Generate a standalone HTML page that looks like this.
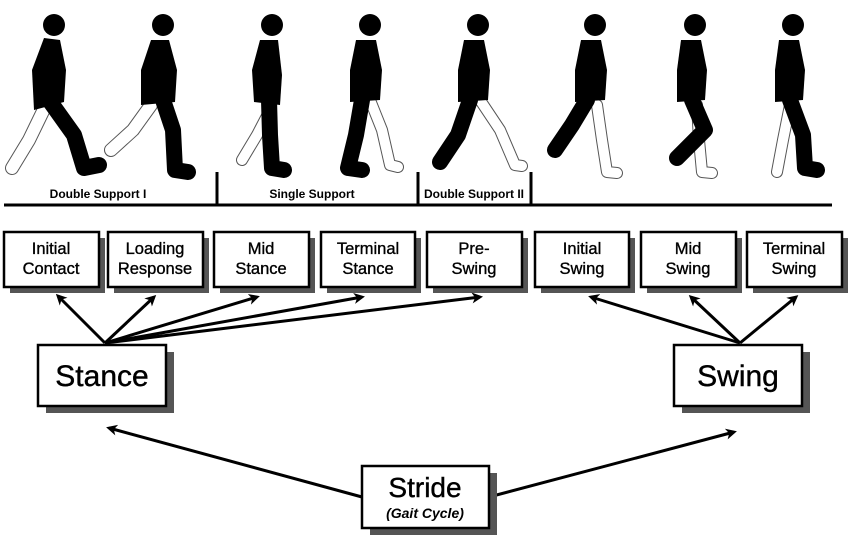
<!DOCTYPE html>
<html><head><meta charset="utf-8"><style>
body{margin:0;background:#fff;width:850px;height:542px;overflow:hidden;font-family:"Liberation Sans",Arial,sans-serif}
</style></head><body>
<svg width="850" height="542" viewBox="0 0 850 542" xmlns="http://www.w3.org/2000/svg" font-family="Liberation Sans, Arial, sans-serif">
<defs>
<marker id="ah" markerWidth="11" markerHeight="11" refX="8" refY="5.5" orient="auto" markerUnits="userSpaceOnUse"><path d="M0,0 L11,5.5 L0,11 L3,5.5 Z" fill="#000"/></marker>
</defs>
<g stroke-linecap="round" stroke-linejoin="round">
<g transform="translate(54,0)">
<polyline points="-8,105 -25,140 -42,168" stroke="#555" stroke-width="14" fill="none"/><polyline points="-8,105 -25,140 -42,168" stroke="#fff" stroke-width="12" fill="none"/>
<circle cx="0" cy="25" r="11"/><path d="M-10,38 L6,40 L12,70 L10,102 L-20,110 L-22,70 Z"/>
<polyline points="-5,100 20,135 30,168 45,165" stroke="#000" stroke-width="16" fill="none"/></g>
<g transform="translate(163,0)">
<polyline points="-12,105 -30,130 -52,150" stroke="#555" stroke-width="14" fill="none"/><polyline points="-12,105 -30,130 -52,150" stroke="#fff" stroke-width="12" fill="none"/>
<circle cx="0" cy="25" r="11"/><path d="M-12,40 L6,40 L14,70 L12,102 L-22,105 L-22,70 Z"/>
<polyline points="0,100 10,130 12,170 25,172" stroke="#000" stroke-width="16" fill="none"/></g>
<g transform="translate(272,0)">
<polyline points="-2,110 -15,135 -30,160" stroke="#555" stroke-width="12" fill="none"/><polyline points="-2,110 -15,135 -30,160" stroke="#fff" stroke-width="10" fill="none"/>
<circle cx="0" cy="25" r="11"/><path d="M-12,40 L6,40 L10,75 L8,105 L-18,102 L-20,70 Z"/>
<polyline points="-3,100 -2,135 0,168 12,170" stroke="#000" stroke-width="16" fill="none"/></g>
<g transform="translate(370,0)">
<polyline points="0,100 12,130 20,165 28,167" stroke="#555" stroke-width="12" fill="none"/><polyline points="0,100 12,130 20,165 28,167" stroke="#fff" stroke-width="10" fill="none"/>
<circle cx="0" cy="25" r="11"/><path d="M-14,40 L6,40 L12,70 L10,100 L-20,102 L-20,70 Z"/>
<polyline points="-8,100 -14,135 -22,168 -8,170" stroke="#000" stroke-width="16" fill="none"/></g>
<g transform="translate(480,0)">
<polyline points="0,100 20,130 35,165 42,166" stroke="#555" stroke-width="12" fill="none"/><polyline points="0,100 20,130 35,165 42,166" stroke="#fff" stroke-width="10" fill="none"/>
<circle cx="-2" cy="25" r="11"/><path d="M-16,40 L4,40 L10,70 L8,100 L-22,102 L-22,70 Z"/>
<polyline points="-10,100 -22,135 -40,162" stroke="#000" stroke-width="16" fill="none"/></g>
<g transform="translate(597,0)">
<polyline points="0,105 5,140 10,172 20,173" stroke="#555" stroke-width="12" fill="none"/><polyline points="0,105 5,140 10,172 20,173" stroke="#fff" stroke-width="10" fill="none"/>
<circle cx="-2" cy="25" r="11"/><path d="M-16,40 L4,40 L10,70 L8,100 L-22,102 L-22,70 Z"/>
<polyline points="-10,100 -25,125 -42,150" stroke="#000" stroke-width="16" fill="none"/></g>
<g transform="translate(697,0)">
<polyline points="0,105 2,140 5,172 15,173" stroke="#555" stroke-width="12" fill="none"/><polyline points="0,105 2,140 5,172 15,173" stroke="#fff" stroke-width="10" fill="none"/>
<circle cx="-2" cy="25" r="11"/><path d="M-16,40 L4,40 L10,70 L8,100 L-20,102 L-20,70 Z"/>
<polyline points="-5,100 8,130 -20,158" stroke="#000" stroke-width="16" fill="none"/></g>
<g transform="translate(795,0)">
<polyline points="-5,105 -12,140 -18,172" stroke="#555" stroke-width="12" fill="none"/><polyline points="-5,105 -12,140 -18,172" stroke="#fff" stroke-width="10" fill="none"/>
<circle cx="-2" cy="25" r="11"/><path d="M-16,40 L4,40 L10,70 L8,100 L-20,102 L-20,70 Z"/>
<polyline points="-5,100 8,135 10,168 22,170" stroke="#000" stroke-width="16" fill="none"/></g>
</g>
<line x1="4" y1="205" x2="832" y2="205" stroke="#000" stroke-width="3"/>
<line x1="217" y1="172" x2="217" y2="205" stroke="#000" stroke-width="3"/>
<line x1="418" y1="172" x2="418" y2="205" stroke="#000" stroke-width="3"/>
<line x1="531" y1="172" x2="531" y2="205" stroke="#000" stroke-width="3"/>
<g font-size="12" font-weight="bold" text-anchor="middle">
<text x="98" y="198">Double Support I</text>
<text x="312" y="198">Single Support</text>
<text x="474" y="198">Double Support II</text>
</g>
<g font-size="16.5" text-anchor="middle" stroke="#000" stroke-width="0.35">
<rect x="10" y="238" width="95" height="55" fill="#555" stroke="none"/><rect x="4" y="232" width="95" height="55" fill="#fff" stroke="#000" stroke-width="2.5"/>
<text x="51" y="254">Initial</text><text x="51" y="274">Contact</text>
<rect x="114" y="238" width="95" height="55" fill="#555" stroke="none"/><rect x="108" y="232" width="95" height="55" fill="#fff" stroke="#000" stroke-width="2.5"/>
<text x="155" y="254">Loading</text><text x="155" y="274">Response</text>
<rect x="220" y="238" width="95" height="55" fill="#555" stroke="none"/><rect x="214" y="232" width="95" height="55" fill="#fff" stroke="#000" stroke-width="2.5"/>
<text x="261" y="254">Mid</text><text x="261" y="274">Stance</text>
<rect x="327" y="238" width="94" height="55" fill="#555" stroke="none"/><rect x="321" y="232" width="94" height="55" fill="#fff" stroke="#000" stroke-width="2.5"/>
<text x="368" y="254">Terminal</text><text x="368" y="274">Stance</text>
<rect x="433" y="238" width="95" height="55" fill="#555" stroke="none"/><rect x="427" y="232" width="95" height="55" fill="#fff" stroke="#000" stroke-width="2.5"/>
<text x="474" y="254">Pre-</text><text x="474" y="274">Swing</text>
<rect x="541" y="238" width="94" height="55" fill="#555" stroke="none"/><rect x="535" y="232" width="94" height="55" fill="#fff" stroke="#000" stroke-width="2.5"/>
<text x="582" y="254">Initial</text><text x="582" y="274">Swing</text>
<rect x="647" y="238" width="95" height="55" fill="#555" stroke="none"/><rect x="641" y="232" width="95" height="55" fill="#fff" stroke="#000" stroke-width="2.5"/>
<text x="688" y="254">Mid</text><text x="688" y="274">Swing</text>
<rect x="753" y="238" width="95" height="55" fill="#555" stroke="none"/><rect x="747" y="232" width="95" height="55" fill="#fff" stroke="#000" stroke-width="2.5"/>
<text x="794" y="254">Terminal</text><text x="794" y="274">Swing</text>
</g>
<g stroke="#000" stroke-width="3" marker-end="url(#ah)">
<line x1="105" y1="343" x2="58" y2="296"/>
<line x1="105" y1="343" x2="154" y2="297"/>
<line x1="105" y1="343" x2="257" y2="297"/>
<line x1="105" y1="343" x2="362" y2="297"/>
<line x1="105" y1="343" x2="480" y2="297"/>
<line x1="740" y1="343" x2="591" y2="297"/>
<line x1="740" y1="343" x2="691" y2="297"/>
<line x1="740" y1="343" x2="796" y2="297"/>
<line x1="362" y1="497" x2="109" y2="428"/>
<line x1="489" y1="497" x2="734" y2="432"/>
</g>
<rect x="46" y="352" width="128" height="61" fill="#555"/><rect x="38" y="345" width="128" height="61" fill="#fff" stroke="#000" stroke-width="2.5"/>
<text x="102" y="386" font-size="30" text-anchor="middle" stroke="#000" stroke-width="0.4">Stance</text>
<rect x="682" y="352" width="128" height="61" fill="#555"/><rect x="674" y="345" width="128" height="61" fill="#fff" stroke="#000" stroke-width="2.5"/>
<text x="738" y="386" font-size="30" text-anchor="middle" stroke="#000" stroke-width="0.4">Swing</text>
<rect x="370" y="473" width="127" height="62" fill="#555"/><rect x="362" y="466" width="127" height="62" fill="#fff" stroke="#000" stroke-width="2.5"/>
<text x="425" y="497" font-size="28" text-anchor="middle" stroke="#000" stroke-width="0.4">Stride</text>
<text x="425" y="518" font-size="14" font-weight="bold" font-style="italic" text-anchor="middle">(Gait Cycle)</text>
</svg>
</body></html>
